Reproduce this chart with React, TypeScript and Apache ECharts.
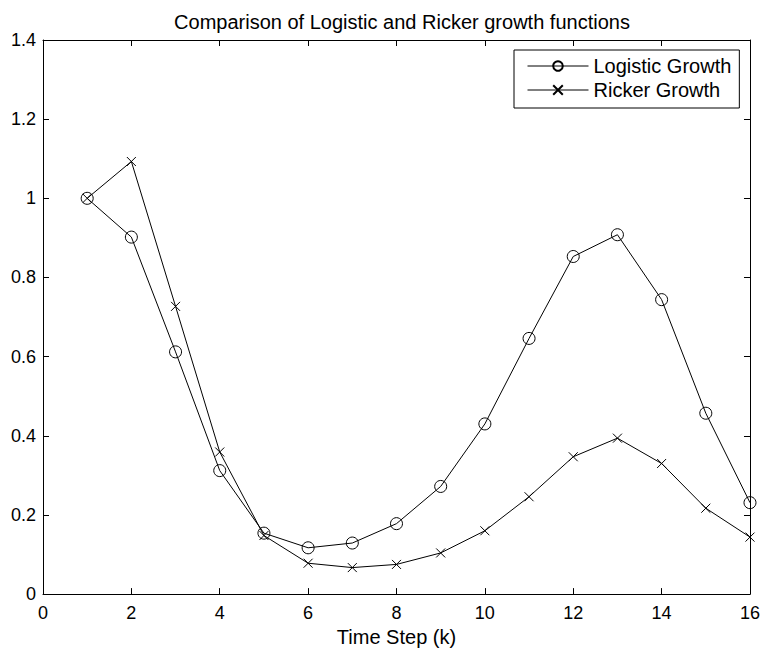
import React, { useEffect, useRef } from "react";
import * as echarts from "echarts";

const timeSteps = [1, 2, 3, 4, 5, 6, 7, 8, 9, 10, 11, 12, 13, 14, 15, 16];
const logisticGrowth = [1.0, 0.902, 0.612, 0.312, 0.154, 0.117, 0.129, 0.178, 0.272, 0.43, 0.646, 0.853, 0.908, 0.744, 0.457, 0.231];
const rickerGrowth = [1.0, 1.093, 0.727, 0.359, 0.148, 0.078, 0.067, 0.075, 0.104, 0.16, 0.246, 0.347, 0.394, 0.33, 0.217, 0.144];
const seriesNames = ["Logistic Growth", "Ricker Growth"];
const titleText = "Comparison of Logistic and Ricker growth functions";
const xAxisName = "Time Step (k)";

const FONT = "'Liberation Sans', Arial, Helvetica, sans-serif";

export default function App() {
  const ref = useRef<HTMLDivElement>(null);
  useEffect(() => {
    if (!ref.current) return;
    const chart = echarts.init(ref.current, null, { renderer: "svg" });
    const crossPath = "path://M0,0L10,10M10,0L0,10";
    const axisLine = { show: true, onZero: false, lineStyle: { color: "#000", width: 1 } };
    const tick = { show: true, inside: true, length: 6, lineStyle: { color: "#000", width: 1 } };
    chart.setOption({
      animation: false,
      backgroundColor: "#fff",
      textStyle: { fontFamily: FONT, color: "#000" },
      title: {
        text: titleText,
        left: 397,
        textAlign: "center",
        top: 7,
        textStyle: { fontFamily: FONT, fontSize: 20, fontWeight: "normal", color: "#000" },
      },
      legend: {
        orient: "vertical",
        left: 514,
        top: 50,
        padding: [6, 8, 8, 13],
        itemGap: 4,
        itemWidth: 61,
        itemHeight: 12,
        backgroundColor: "#fff",
        borderColor: "#000",
        borderWidth: 1,
        borderRadius: 0,
        lineStyle: { width: 1, color: "#000" },
        textStyle: { fontFamily: FONT, fontSize: 20, color: "#000", lineHeight: 19 },
        data: seriesNames,
      },
      grid: { left: 43, top: 40, right: 12, bottom: 54, containLabel: false },
      xAxis: [
        {
          type: "value",
          min: 0,
          max: 16,
          interval: 2,
          name: xAxisName,
          nameLocation: "middle",
          nameGap: 32,
          nameTextStyle: { fontFamily: FONT, fontSize: 20, color: "#000" },
          axisLine,
          axisTick: tick,
          axisLabel: { fontFamily: FONT, fontSize: 18, color: "#000", margin: 10 },
          splitLine: { show: false },
        },
        {
          type: "value",
          position: "top",
          min: 0,
          max: 16,
          interval: 2,
          axisLine,
          axisTick: tick,
          axisLabel: { show: false },
          splitLine: { show: false },
        },
      ],
      yAxis: [
        {
          type: "value",
          min: 0,
          max: 1.4,
          interval: 0.2,
          axisLine,
          axisTick: tick,
          axisLabel: { fontFamily: FONT, fontSize: 18, color: "#000", margin: 7 },
          splitLine: { show: false },
        },
        {
          type: "value",
          position: "right",
          min: 0,
          max: 1.4,
          interval: 0.2,
          axisLine,
          axisTick: tick,
          axisLabel: { show: false },
          splitLine: { show: false },
        },
      ],
      series: [
        {
          name: seriesNames[0],
          type: "line",
          data: timeSteps.map((k, i) => [k, logisticGrowth[i]]),
          symbol: "circle",
          symbolSize: 12,
          showAllSymbol: true,
          lineStyle: { color: "#000", width: 1 },
          itemStyle: { color: "transparent", borderColor: "#000", borderWidth: 1 },
          emphasis: { disabled: true },
        },
        {
          name: seriesNames[1],
          type: "line",
          data: timeSteps.map((k, i) => [k, rickerGrowth[i]]),
          symbol: crossPath,
          symbolSize: 9,
          showAllSymbol: true,
          lineStyle: { color: "#000", width: 1 },
          itemStyle: { color: "transparent", borderColor: "#000", borderWidth: 1 },
          emphasis: { disabled: true },
        },
      ],
    });
    return () => chart.dispose();
  }, []);
  return (
    <div
      ref={ref}
      style={{ position: "fixed", left: 0, top: 0, width: 763, height: 652, background: "#fff" }}
    />
  );
}
